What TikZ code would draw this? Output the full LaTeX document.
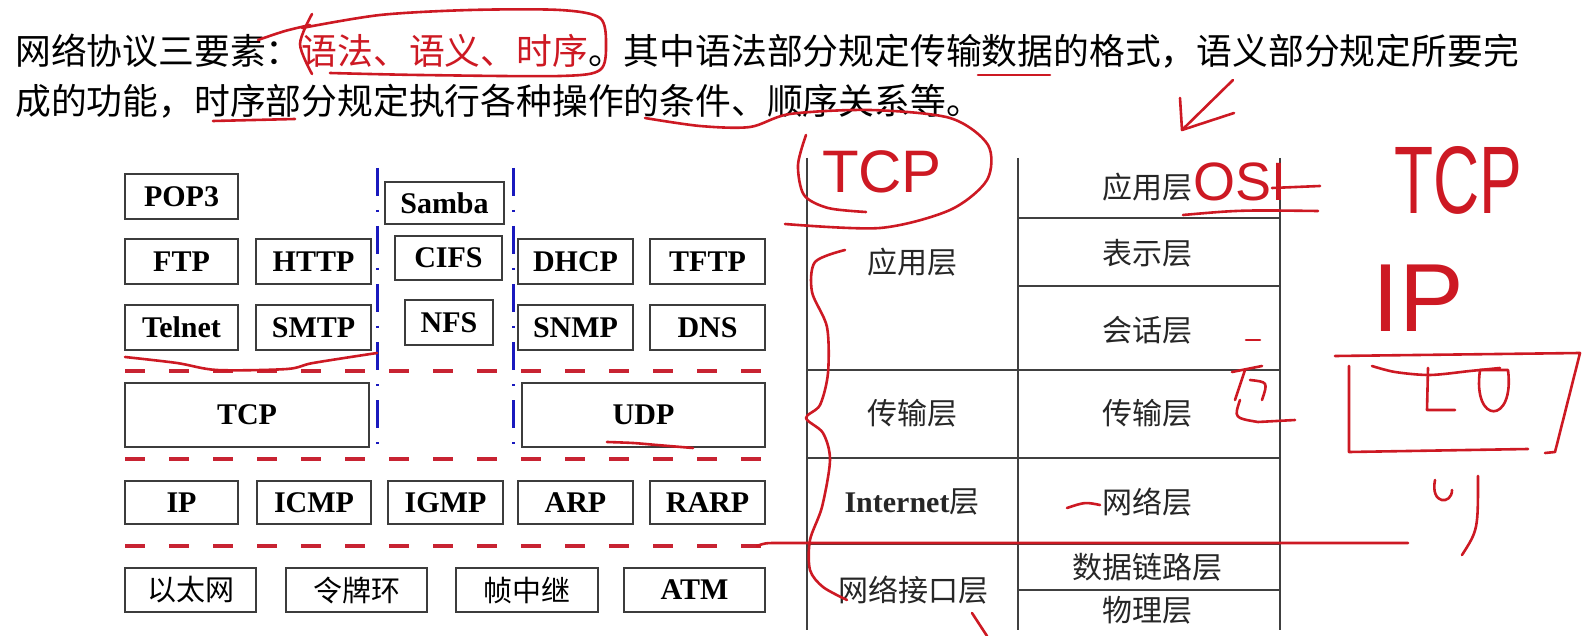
\documentclass[tikz,border=0pt]{standalone}
\usepackage{fontspec}
\setmainfont{Liberation Serif}
\newfontfamily\cjk{Noto Sans CJK SC}
\newfontfamily\handfont{Liberation Sans}
\usetikzlibrary{calc}
\definecolor{inkred}{RGB}{205,25,35}
\definecolor{dashred}{RGB}{200,35,50}
\definecolor{sepblue}{RGB}{25,25,190}
\definecolor{boxgray}{RGB}{60,60,60}
\tikzset{
  proto/.style={draw=boxgray, line width=0.8pt, inner sep=0pt, font=\bfseries\fontsize{15}{15}\selectfont},
  cnproto/.style={draw=boxgray, line width=0.8pt, inner sep=0pt, font=\cjk\fontsize{14.5}{14.5}\selectfont},
  boxsize/.style 2 args={minimum width=#1*0.5pt, minimum height=#2*0.5pt},
  layer/.style={inner sep=0pt, font=\cjk\fontsize{15}{15}\selectfont, text=black!85},
  tabline/.style={draw=black!75, line width=1pt},
  laydash/.style={draw=dashred, line width=1.8pt, dash pattern=on 10pt off 12pt},
  sepline/.style={draw=sepblue, line width=1.5pt, dash pattern=on 14pt off 7pt on 1pt off 7pt},
  ink/.style={draw=inkred, line width=1.3pt, line cap=round, line join=round},
  inktext/.style={inner sep=0pt, text=inkred}
}

\begin{document}
\begin{tikzpicture}[x=0.5pt, y=-0.5pt]
\useasboundingbox (0,0) rectangle (1585,636);

% heading
\node[anchor=base west, inner sep=0pt, font=\cjk\fontsize{17.9}{17.9}\selectfont] (title1) at (15,64.5) {网络协议三要素：\textcolor{inkred}{语法、语义、时序}。其中语法部分规定传输数据的格式，语义部分规定所要完};
\node[anchor=base west, inner sep=0pt, font=\cjk\fontsize{17.9}{17.9}\selectfont] (title2) at (15,114.5) {成的功能，时序部分规定执行各种操作的条件、顺序关系等。};

% application protocols
\node[proto, boxsize={113}{45}] (pop3) at (181.5,196.5) {POP3};
\node[proto, boxsize={119}{42}] (samba) at (444.5,203) {Samba};
\node[proto, boxsize={113}{45}] (ftp) at (181.5,261.5) {FTP};
\node[proto, boxsize={115}{45}] (http) at (313.5,261.5) {HTTP};
\node[proto, boxsize={107}{44}] (cifs) at (448.5,258) {CIFS};
\node[proto, boxsize={115}{45}] (dhcp) at (575.5,261.5) {DHCP};
\node[proto, boxsize={115}{45}] (tftp) at (707.5,261.5) {TFTP};
\node[proto, boxsize={113}{45}] (telnet) at (181.5,327.5) {Telnet};
\node[proto, boxsize={115}{45}] (smtp) at (313.5,327.5) {SMTP};
\node[proto, boxsize={88}{45}] (nfs) at (449,322.5) {NFS};
\node[proto, boxsize={115}{45}] (snmp) at (575.5,327.5) {SNMP};
\node[proto, boxsize={115}{45}] (dns) at (707.5,327.5) {DNS};

% transport
\node[proto, boxsize={244}{64}] (tcp) at (247,415) {TCP};
\node[proto, boxsize={243}{64}] (udp) at (643.5,415) {UDP};

% internet
\node[proto, boxsize={113}{43}] (ip) at (181.5,502.5) {IP};
\node[proto, boxsize={114}{43}] (icmp) at (314,502.5) {ICMP};
\node[proto, boxsize={115}{43}] (igmp) at (445.5,502.5) {IGMP};
\node[proto, boxsize={115}{43}] (arp) at (575.5,502.5) {ARP};
\node[proto, boxsize={115}{43}] (rarp) at (707.5,502.5) {RARP};

% network interface
\node[cnproto, boxsize={131}{44}] (eth) at (190.5,590) {以太网};
\node[cnproto, boxsize={141}{44}] (token) at (356.5,590) {令牌环};
\node[cnproto, boxsize={142}{44}] (frame) at (527,590) {帧中继};
\node[proto, boxsize={141}{44}] (atm) at (694.5,590) {ATM};

% layer separators
\draw[laydash] (125,371) -- (775,371);
\draw[laydash] (125,459) -- (775,459);
\draw[laydash] (125,546) -- (775,546);
\draw[sepline] (377,168) -- (377,448);
\draw[sepline] (513,168) -- (513,448);

% TCP/IP vs OSI table
\draw[tabline] (807,158) -- (807,630);
\draw[tabline] (1018,158) -- (1018,630);
\draw[tabline] (1280,158) -- (1280,630);
\draw[tabline] (1018,218) -- (1280,218);
\draw[tabline] (1018,286) -- (1280,286);
\draw[tabline] (807,370) -- (1280,370);
\draw[tabline] (807,458) -- (1280,458);
\draw[tabline] (807,544) -- (1280,544);
\draw[tabline] (1018,590) -- (1280,590);

\node[layer] (tcpapp) at (912,262) {应用层};
\node[layer] (tcptrans) at (912,413) {传输层};
\node[layer] (tcpinet) at (912,502) {{\rmfamily\bfseries Internet}层};
\node[layer] (tcpnet) at (913,590) {网络接口层};
\node[layer] (osiapp) at (1147,187) {应用层};
\node[layer] (osipres) at (1147,253) {表示层};
\node[layer] (osisess) at (1147,330) {会话层};
\node[layer] (ositrans) at (1147,413) {传输层};
\node[layer] (osinet) at (1147,502) {网络层};
\node[layer] (osilink) at (1147,567) {数据链路层};
\node[layer] (osiphy) at (1147,610) {物理层};

% red pen notes
\draw[ink] plot[smooth] coordinates {(258,40) (285,31) (310,25)};
\draw[ink] plot[smooth] coordinates {(312,14) (300,44) (312,74)};
\draw[ink] plot[smooth] coordinates {(302,28) (380,15) (470,10) (560,10) (600,18) (606,45) (600,70) (560,76) (420,75) (330,73)};
\draw[ink] (978,75) -- (1050,75);
\draw[ink] (213,121) -- (295,119);
\draw[ink] plot[smooth] coordinates {(645,118) (700,126) (750,127) (790,114) (870,110) (950,118) (988,145) (987,180) (950,210) (880,228) (785,224)};
\draw[ink] plot[smooth] coordinates {(806,135) (798,165) (804,195) (828,208) (866,212)};
\node[inktext, font=\handfont\fontsize{30}{30}\selectfont] (tcpnote) at (882,172) {TCP};

\draw[ink] (1233,80) -- (1182,130);
\draw[ink] (1180,98) -- (1182,130) -- (1234,113);
\node[inktext, font=\handfont\fontsize{27}{27}\selectfont] (osinote) at (1240,182) {OSI};
\draw[ink] (1183,215) .. controls (1240,210) .. (1318,211);
\draw[ink] (1272,188) -- (1320,186);

\node[inktext, font=\handfont\fontsize{32}{32}\selectfont] (tcpnote2) at (1458,180) {\scalebox{1}[1.5]{TCP}};
\node[inktext, font=\handfont\fontsize{44}{44}\selectfont] (ipnote) at (1418,298) {\scalebox{1.1}[1.1]{IP}};

\draw[ink] (1349,366) -- (1349,452) -- (1528,449);
\draw[ink] (1335,356) -- (1580,353) -- (1555,452) -- (1545,453);
\draw[ink] plot[smooth] coordinates {(1372,366) (1395,372) (1430,375) (1470,371) (1500,368)};
\draw[ink] (1428,368) -- (1427,410) -- (1455,410);
\draw[ink] (1480,370) .. controls (1472,425) and (1515,425) .. (1508,370) -- (1480,370);
\draw[ink] (1435,480) .. controls (1430,505) and (1452,505) .. (1452,490);
\draw[ink] (1478,476) .. controls (1478,530) .. (1462,555);

\draw[ink] (1246,340) -- (1260,340);
\draw[ink] (1232,372) -- (1262,366);
\draw[ink] (1245,370) -- (1235,400);
\draw[ink] (1250,380) .. controls (1268,382) .. (1262,400);
\draw[ink] (1240,400) .. controls (1234,418) .. (1258,422) -- (1295,420);

\draw[ink] plot[smooth] coordinates {(845,250) (815,262) (812,292) (827,327) (828,373) (820,405) (806,418) (823,433) (830,460) (822,507) (810,540) (810,570) (823,587) (847,600)};
\draw[ink] (757,546) .. controls (765,543) .. (780,543) -- (1408,543);
\draw[ink] (1067,508) .. controls (1085,502) .. (1100,505);
\draw[ink] (972,613) -- (987,636);
\draw[ink] plot[smooth] coordinates {(125,357) (177,363) (217,370) (287,369) (313,363) (377,353)};
\draw[ink] plot[smooth] coordinates {(607,442) (633,443) (657,445) (693,448)};
\end{tikzpicture}
\end{document}
